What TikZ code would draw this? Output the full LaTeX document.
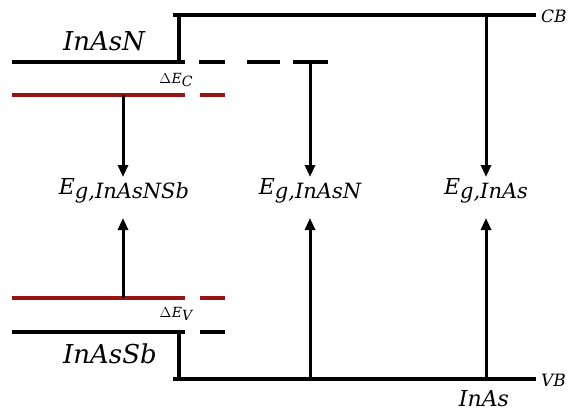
\documentclass[tikz,border=0pt]{standalone}
\usepackage{fontspec}
\setmainfont{DejaVu Serif}
\usetikzlibrary{arrows.meta}
\definecolor{bandred}{RGB}{150,20,20}
\tikzset{
  band/.style={line width=3.2pt, line cap=butt},
  redband/.style={band, draw=bandred},
  arr/.style={line width=3pt, -{Triangle[length=12pt,width=10pt]}},
  big/.style={font=\fontsize{26}{30}\selectfont\itshape, inner sep=0pt},
  eg/.style={font=\fontsize{22}{25}\selectfont\itshape, inner sep=0pt},
  small/.style={font=\fontsize{17}{20}\selectfont\itshape, inner sep=0pt},
  tiny/.style={font=\fontsize{14}{16}\selectfont\itshape, inner sep=0pt},
}
\newcommand{\egsub}[1]{E\raisebox{-4.5pt}{\fontsize{21}{23}\selectfont g,#1}}
\begin{document}
\begin{tikzpicture}[x=1pt,y=-1pt]
\useasboundingbox (0,0) rectangle (576,412);
% coordinates
\coordinate (cbL) at (173,15);
\coordinate (cbR) at (536,15);
\coordinate (stepT) at (179,15);
\coordinate (stepB) at (179,62);
\coordinate (nL) at (12,62);
\coordinate (nR) at (185,62);
\coordinate (rcL) at (12,95);
\coordinate (rcR) at (185,95);
\coordinate (rvL) at (12,298);
\coordinate (rvR) at (185,298);
\coordinate (sL) at (12,332);
\coordinate (sR) at (185,332);
\coordinate (vstepT) at (179,332);
\coordinate (vstepB) at (179,379);
\coordinate (vbL) at (173,379);
\coordinate (vbR) at (536,379);
\coordinate (a1t) at (123,95);
\coordinate (a1b) at (123,298);
\coordinate (a2t) at (310,62);
\coordinate (a2b) at (310,379);
\coordinate (a3t) at (486,15);
\coordinate (a3b) at (486,379);
% dashes
\coordinate (d1a) at (199,62); \coordinate (d1b) at (225,62);
\coordinate (d2a) at (247,62); \coordinate (d2b) at (280,62);
\coordinate (d3a) at (293,62); \coordinate (d3b) at (328,62);
\coordinate (d4a) at (200,95); \coordinate (d4b) at (225,95);
\coordinate (d5a) at (200,298); \coordinate (d5b) at (225,298);
\coordinate (d6a) at (200,332); \coordinate (d6b) at (225,332);

% bands
\draw[band] (cbL) -- (cbR);
\draw[band] (stepT) -- (stepB);
\draw[band] (nL) -- (nR);
\draw[band] (d1a) -- (d1b);
\draw[band] (d2a) -- (d2b);
\draw[band] (d3a) -- (d3b);
\draw[redband] (rcL) -- (rcR);
\draw[redband] (d4a) -- (d4b);
\draw[redband] (rvL) -- (rvR);
\draw[redband] (d5a) -- (d5b);
\draw[band] (sL) -- (sR);
\draw[band] (d6a) -- (d6b);
\draw[band] (vstepT) -- (vstepB);
\draw[band] (vbL) -- (vbR);

% labels
\node[big] (inasn) at (104,41) {InAsN};
\node[big] (inassb) at (110,354) {InAsSb};
\node[small, anchor=west] (cb) at (541,16) {CB};
\node[small, anchor=west] (vb) at (541,380) {VB};
\node[eg] (inas) at (484,399) {InAs};
\node[tiny] (dec) at (176,80) {$\Delta$\kern0.5pt E\raisebox{-3.5pt}{C}};
\node[tiny] (dev) at (176,314) {$\Delta$\kern0.5pt E\raisebox{-3.5pt}{V}};
\node[eg] (eg1) at (124,191) {\egsub{InAsNSb}};
\node[eg] (eg2) at (310,191) {\egsub{InAsN}};
\node[eg] (eg3) at (486,191) {\egsub{InAs}};

% arrows
\draw[arr] (a1t) -- (a1t |- 0,177);
\draw[arr] (a1b) -- (a1b |- 0,218);
\draw[arr] (a2t) -- (a2t |- 0,177);
\draw[arr] (a2b) -- (a2b |- 0,218);
\draw[arr] (a3t) -- (a3t |- 0,177);
\draw[arr] (a3b) -- (a3b |- 0,218);
\end{tikzpicture}
\end{document}
